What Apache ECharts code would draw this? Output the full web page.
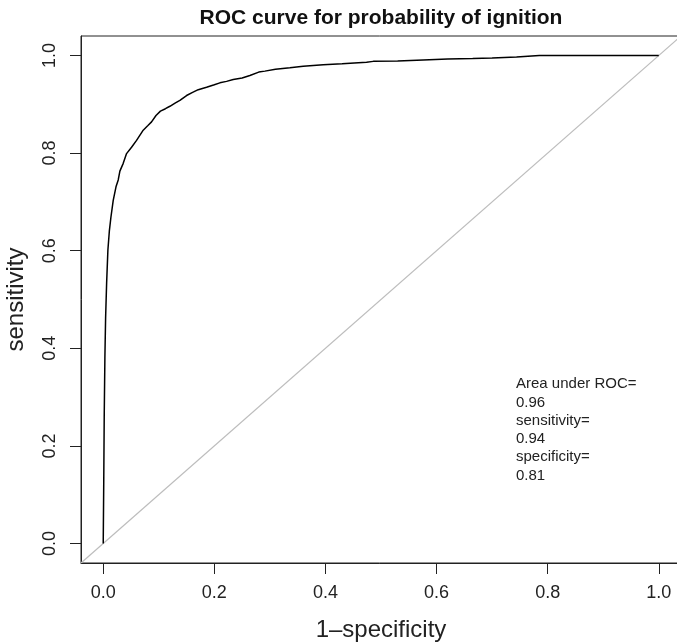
<!DOCTYPE html>
<html>
<head>
<meta charset="utf-8">
<script src="https://cdn.jsdelivr.net/npm/echarts@6/dist/echarts.min.js"></script>
<style>
  html, body { margin: 0; padding: 0; background: #fff; }
  #chart { width: 677px; height: 643px; }
</style>
</head>
<body>
<div id="chart"></div>
<script>
// ROC 曲线数据 (1-specificity, sensitivity)
var fpr = [0, 0.0009, 0.0018, 0.003, 0.0043, 0.0061, 0.0084, 0.011, 0.0138, 0.018,
    0.023, 0.027, 0.030, 0.036, 0.042, 0.051, 0.060, 0.072, 0.080, 0.087,
    0.095, 0.103, 0.112, 0.120, 0.130, 0.138, 0.150, 0.160, 0.171, 0.186,
    0.200, 0.210, 0.222, 0.234, 0.250, 0.264, 0.280, 0.291, 0.310, 0.336,
    0.360, 0.396, 0.430, 0.474, 0.486, 0.530, 0.576, 0.620, 0.665, 0.700,
    0.744, 0.785, 1.0];
var tpr = [0, 0.12, 0.26, 0.38, 0.463, 0.533, 0.601, 0.64, 0.668, 0.703,
    0.731, 0.745, 0.763, 0.779, 0.799, 0.812, 0.826, 0.847, 0.856, 0.864,
    0.877, 0.886, 0.891, 0.896, 0.903, 0.908, 0.918, 0.924, 0.930, 0.935,
    0.940, 0.944, 0.947, 0.951, 0.954, 0.959, 0.966, 0.968, 0.972, 0.975,
    0.978, 0.981, 0.983, 0.986, 0.988, 0.989, 0.991, 0.993, 0.994, 0.995,
    0.997, 1.0, 1.0];
// abline(0,1) 覆盖整个绘图区
var diagX = [-0.04, 1.04];
var diagY = [-0.04, 1.04];
var ticks = [0, 0.2, 0.4, 0.6, 0.8, 1.0];
var axisMin = -0.04, axisMax = 1.04;
var noteLines = ['Area under ROC=', '0.96', 'sensitivity=', '0.94', 'specificity=', '0.81'];

var font = '"Liberation Sans", Arial, Helvetica, sans-serif';

var rocData = fpr.map(function (x, i) { return [x, tpr[i]]; });
var diagData = diagX.map(function (x, i) { return [x, diagY[i]]; });

var myChart = echarts.init(document.getElementById('chart'));

var axisCommon = function () {
    return {
        type: 'value',
        min: axisMin,
        max: axisMax,
        splitLine: { show: false },
        axisLine: { show: true, onZero: false, lineStyle: { color: '#222', width: 1 } },
        axisTick: {
            show: true, inside: false, length: 11, customValues: ticks,
            lineStyle: { color: '#222', width: 1 }
        },
        axisLabel: {
            customValues: ticks,
            fontFamily: font, fontSize: 18, color: '#222',
            formatter: function (v) { return v.toFixed(1); }
        },
        nameLocation: 'middle',
        nameTextStyle: { fontFamily: font, fontSize: 24, color: '#222' }
    };
};

var xAxis = axisCommon();
xAxis.name = '1\u2013specificity';
xAxis.nameGap = 55;
xAxis.axisLabel.margin = 21;

var yAxis = axisCommon();
yAxis.name = 'sensitivity';
yAxis.nameGap = 53;
yAxis.axisLabel.margin = 22;
yAxis.axisLabel.rotate = 90;

var option = {
    animation: false,
    backgroundColor: '#fff',
    title: {
        text: 'ROC curve for probability of ignition',
        left: 376,
        top: 3,
        textAlign: 'center',
        textStyle: { fontFamily: font, fontSize: 21, fontWeight: 'bold', color: '#111' }
    },
    grid: {
        left: 81, top: 36, right: -4, bottom: 80,
        containLabel: false,
        outerBoundsMode: 'none',
        show: true, borderColor: '#222', borderWidth: 1, backgroundColor: 'transparent'
    },
    xAxis: xAxis,
    yAxis: yAxis,
    series: [
        {
            type: 'line',
            data: diagData,
            showSymbol: false,
            silent: true,
            lineStyle: { color: '#bdbdbd', width: 1.2 },
            z: 1
        },
        {
            type: 'line',
            data: rocData,
            showSymbol: false,
            silent: true,
            lineStyle: { color: '#000', width: 1.5 },
            z: 2
        }
    ],
    graphic: [{
        type: 'text',
        left: 516,
        top: 375,
        style: {
            text: noteLines.join('\n'),
            fontFamily: font,
            fontSize: 15,
            lineHeight: 18.3,
            fill: '#222'
        }
    }]
};

myChart.setOption(option);
</script>
</body>
</html>
